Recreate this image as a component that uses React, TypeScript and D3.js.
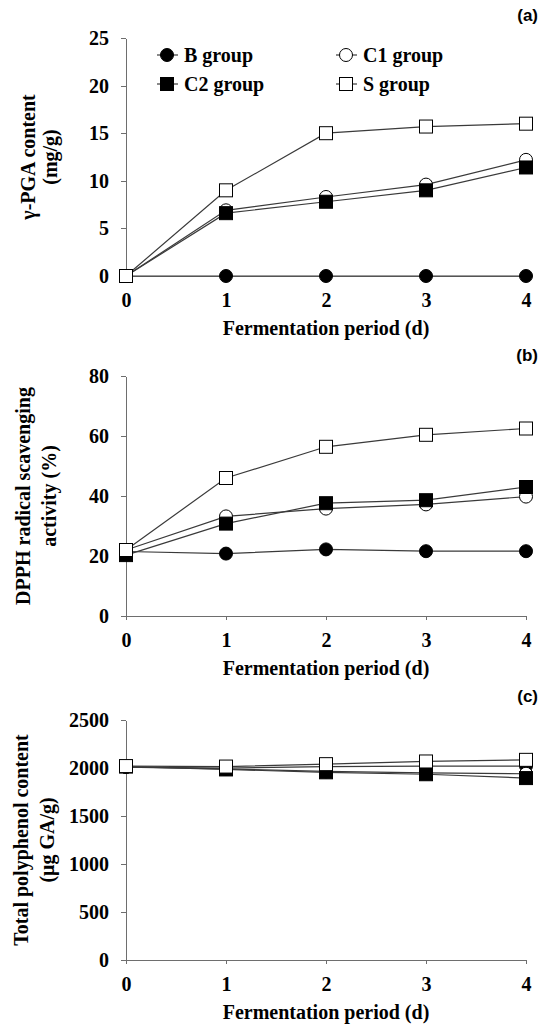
import React, { useEffect, useRef } from 'react';
import * as d3 from 'd3';

// fermentation days
const days = [0, 1, 2, 3, 4];
const groupNames = ['B group', 'C1 group', 'C2 group', 'S group'];

// (a) γ-PGA content (mg/g)
const pgaB = [0, 0, 0, 0, 0];
const pgaC1 = [0, 6.9, 8.3, 9.6, 12.2];
const pgaC2 = [0, 6.6, 7.8, 9.0, 11.4];
const pgaS = [0, 9.0, 15.0, 15.7, 16.0];
const pgaTicks = [0, 5, 10, 15, 20, 25];

// (b) DPPH radical scavenging activity (%)
const dpphB = [21.5, 20.8, 22.2, 21.6, 21.6];
const dpphC1 = [22.0, 33.2, 35.8, 37.2, 39.8];
const dpphC2 = [20.3, 30.8, 37.6, 38.6, 43.0];
const dpphS = [22.0, 46.0, 56.4, 60.4, 62.5];
const dpphTicks = [0, 20, 40, 60, 80];

// (c) Total polyphenol content (μg GA/g)
const tpcB = [2010, 2000, 2015, 2020, 2020];
const tpcC1 = [2010, 1990, 1965, 1950, 1940];
const tpcC2 = [2015, 1985, 1955, 1935, 1895];
const tpcS = [2020, 2015, 2040, 2068, 2085];
const tpcTicks = [0, 500, 1000, 1500, 2000, 2500];

const SERIF = '"Liberation Serif", "Times New Roman", serif';
const SANS = '"Liberation Sans", Arial, sans-serif';

type Marker = 'dot' | 'ring' | 'block' | 'box';
const markers: Marker[] = ['dot', 'ring', 'block', 'box'];

const panels = [
  { tag: '(a)', title: ['γ-PGA content', '(mg/g)'], titleX: [28, 50], ticks: pgaTicks, series: [pgaB, pgaC1, pgaC2, pgaS], top: 38, bottom: 276, tagY: 21, legend: true },
  { tag: '(b)', title: ['DPPH radical scavenging', 'activity (%)'], titleX: [23, 49], ticks: dpphTicks, series: [dpphB, dpphC1, dpphC2, dpphS], top: 376, bottom: 616, tagY: 361, legend: false },
  { tag: '(c)', title: ['Total polyphenol content', '(μg GA/g)'], titleX: [21, 47], ticks: tpcTicks, series: [tpcB, tpcC1, tpcC2, tpcS], top: 720, bottom: 960, tagY: 702, legend: false },
];

const drawMarker = (sel: d3.Selection<any, any, any, any>, kind: Marker, x: number, y: number) => {
  const s = 13;
  if (kind === 'dot' || kind === 'ring') {
    sel.append('circle')
      .attr('cx', x).attr('cy', y).attr('r', s / 2)
      .attr('fill', kind === 'dot' ? '#000' : '#fff')
      .attr('stroke', '#000').attr('stroke-width', 1);
  } else {
    sel.append('rect')
      .attr('x', x - s / 2).attr('y', y - s / 2).attr('width', s).attr('height', s)
      .attr('fill', kind === 'block' ? '#000' : '#fff')
      .attr('stroke', '#000').attr('stroke-width', 1);
  }
};

const App: React.FC = () => {
  const svgRef = useRef<SVGSVGElement>(null);

  useEffect(() => {
    document.body.style.margin = '0';
    if (!svgRef.current) return;
    const svg = d3.select(svgRef.current);
    svg.selectAll('*').remove();

    const x = d3.scaleLinear().domain([0, 4]).range([126, 526]);

    panels.forEach(p => {
      const yMax = p.ticks[p.ticks.length - 1];
      const y = d3.scaleLinear().domain([0, yMax]).range([p.bottom, p.top]);
      const g = svg.append('g');

      // axes
      const yAxis = g.append('g')
        .attr('transform', `translate(${x(0)},0)`)
        .call(d3.axisLeft(y).tickValues(p.ticks).tickSize(5).tickSizeOuter(0).tickPadding(12).tickFormat(d3.format('d')));
      const xAxis = g.append('g')
        .attr('transform', `translate(0,${p.bottom})`)
        .call(d3.axisBottom(x).tickValues(days).tickSize(4).tickSizeOuter(0).tickPadding(13).tickFormat(d3.format('d')));
      [yAxis, xAxis].forEach(a => {
        a.selectAll('path, line').attr('stroke', '#6e6e6e').attr('stroke-width', 1).attr('shape-rendering', 'crispEdges');
        a.selectAll('text')
          .attr('font-family', SERIF).attr('font-weight', 'bold')
          .attr('font-size', 20).attr('fill', '#000');
      });

      // axis titles
      g.append('text')
        .attr('x', x(2)).attr('y', p.bottom + 59)
        .attr('text-anchor', 'middle')
        .attr('font-family', SERIF).attr('font-weight', 'bold').attr('font-size', 20)
        .text('Fermentation period (d)');

      p.title.forEach((t, i) => {
        g.append('text')
          .attr('transform', `translate(${p.titleX[i]},${(p.top + p.bottom) / 2}) rotate(-90)`)
          .attr('text-anchor', 'middle')
          .attr('dominant-baseline', 'central')
          .attr('font-family', SERIF).attr('font-weight', 'bold').attr('font-size', 20)
          .text(t);
      });

      g.append('text')
        .attr('x', 538).attr('y', p.tagY)
        .attr('text-anchor', 'end')
        .attr('font-family', SANS).attr('font-weight', 'bold').attr('font-size', 17)
        .text(p.tag);

      // series
      const line = d3.line<number>().x((_, i) => x(days[i])).y(v => y(v));
      p.series.forEach(vals => {
        g.append('path')
          .attr('d', line(vals))
          .attr('fill', 'none')
          .attr('stroke', '#3a3a3a')
          .attr('stroke-width', 1.2);
      });
      p.series.forEach((vals, si) => {
        vals.forEach((v, i) => drawMarker(g, markers[si], x(days[i]), y(v)));
      });

      // legend
      if (p.legend) {
        const cols = [167, 346];
        const rows = [55, 84];
        groupNames.forEach((name, i) => {
          const cx = cols[i % 2];
          const cy = rows[Math.floor(i / 2)];
          const lg = g.append('g');
          lg.append('line')
            .attr('x1', cx - 10).attr('x2', cx + 11).attr('y1', cy).attr('y2', cy)
            .attr('stroke', '#3a3a3a').attr('stroke-width', 1.2);
          drawMarker(lg, markers[i], cx, cy);
          lg.append('text')
            .attr('x', cx + 17).attr('y', cy).attr('dy', '0.33em')
            .attr('font-family', SERIF).attr('font-weight', 'bold').attr('font-size', 20)
            .text(name);
        });
      }
    });
  }, []);

  return (
    <div style={{ width: 550, height: 1029, background: '#fff' }}>
      <svg ref={svgRef} width={550} height={1029} viewBox="0 0 550 1029" style={{ display: 'block' }} />
    </div>
  );
};

export default App;
